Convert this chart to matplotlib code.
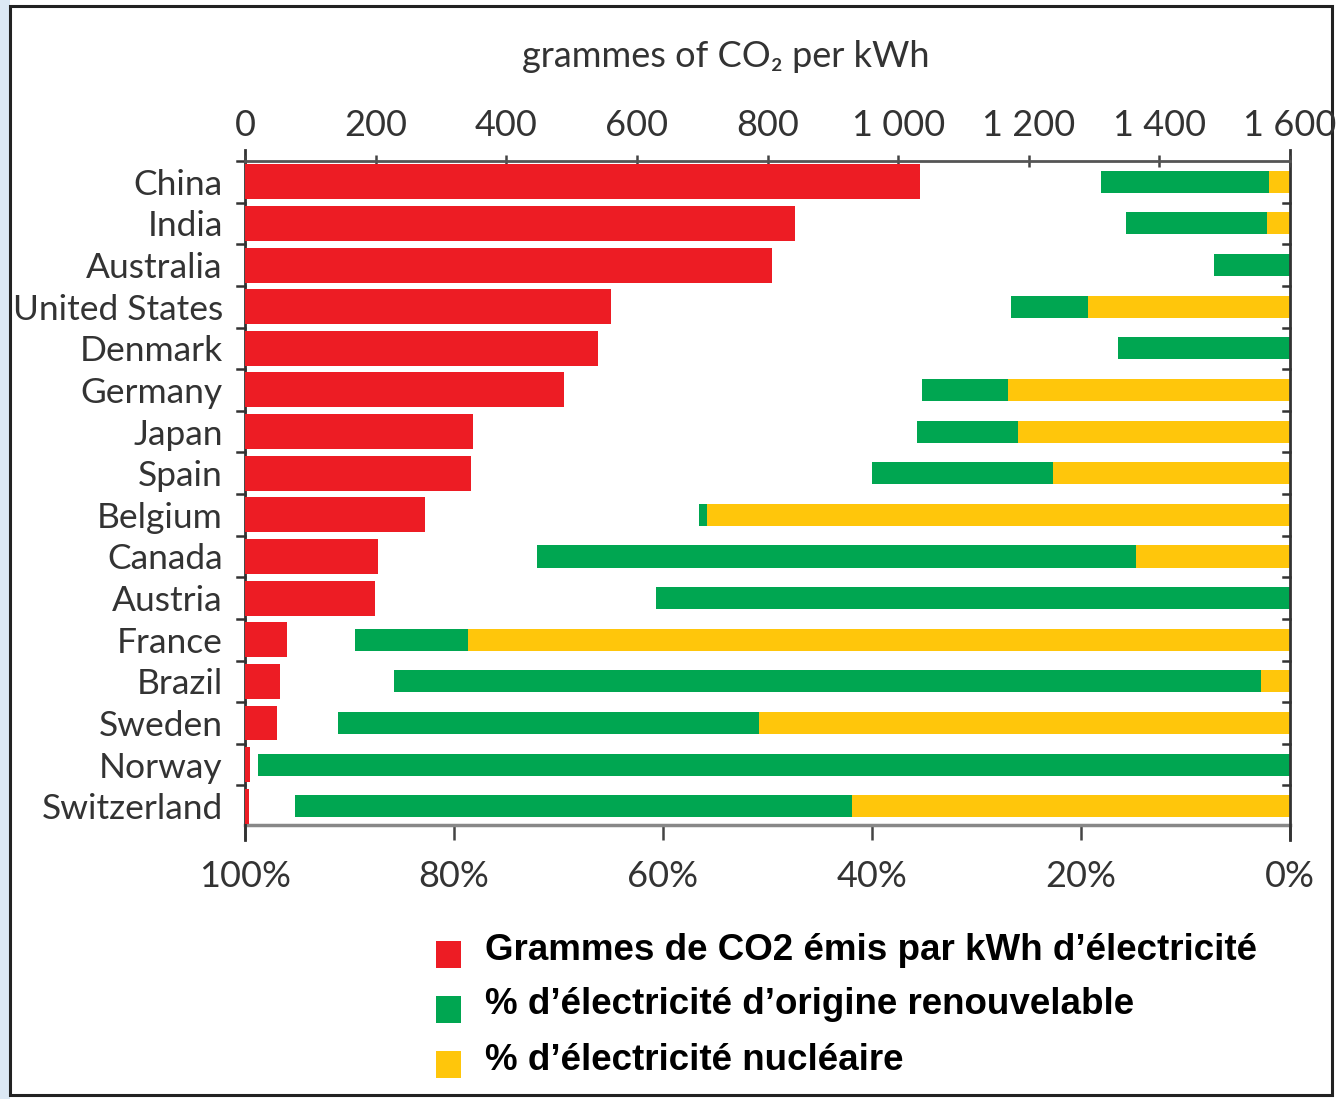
import matplotlib
matplotlib.use("Agg")
import matplotlib.pyplot as plt
import matplotlib.transforms as mtransforms
from matplotlib.patches import Rectangle
from matplotlib.lines import Line2D

plt.rcParams['font.family'] = ['Lato', 'DejaVu Sans']

countries = ["China", "India", "Australia", "United States", "Denmark", "Germany",
             "Japan", "Spain", "Belgium", "Canada", "Austria", "France", "Brazil",
             "Sweden", "Norway", "Switzerland"]
co2_g_per_kwh = [1034, 842, 807, 560, 540, 488, 349, 346, 276, 204, 199, 64, 54, 49, 8, 6]
renewable_pct = [16.1, 13.5, 7.3, 7.4, 16.5, 8.2, 9.7, 17.3, 0.8, 57.4, 60.7, 10.8, 82.9, 40.3, 98.8, 53.3]
nuclear_pct = [2.0, 2.2, 0.0, 19.3, 0.0, 27.0, 26.0, 22.7, 55.8, 14.7, 0.0, 78.7, 2.8, 50.8, 0.0, 41.9]

gram_ticks = [0, 200, 400, 600, 800, 1000, 1200, 1400, 1600]
gram_labels = ["0", "200", "400", "600", "800", "1 000", "1 200", "1 400", "1 600"]
pct_ticks = [100, 80, 60, 40, 20, 0]
pct_labels = ["100%", "80%", "60%", "40%", "20%", "0%"]

legend_labels = ["Grammes de CO2 émis par kWh d\u2019électricité",
                 "% d\u2019électricité d\u2019origine renouvelable",
                 "% d\u2019électricité nucléaire"]

RED = "#ED1C24"
GREEN = "#00A651"
YELLOW = "#FFC60B"
TXT = "#333333"

W, H = 1338, 1099
fig = plt.figure(figsize=(W / 100, H / 100), dpi=100)
fig.patch.set_facecolor("white")

# light strip on the far left and the outer frame
fig.add_artist(Rectangle((0, 0), 10 / W, 1, transform=fig.transFigure,
                         facecolor="#DCE8F4", edgecolor="none", zorder=0))
fig.add_artist(Rectangle((10 / W, 4 / H), 1322 / W, 1089 / H, transform=fig.transFigure,
                         facecolor="white", edgecolor="#222222", linewidth=2.2, zorder=0.5))

x0, x1 = 245 / W, 1290 / W
ytop, ybot = 1 - 161 / H, 1 - 825 / H
ax = fig.add_axes([x0, ybot, x1 - x0, ytop - ybot])
ax.set_zorder(2)
ax.patch.set_alpha(0)

n = len(countries)
ypos = list(range(n))

# percentage axis (bottom): 100% on the left, 0% on the right
ax.set_xlim(100, 0)
ax.set_ylim(n - 0.55, -0.5)
ax.barh(ypos, renewable_pct, left=nuclear_pct, height=0.53, color=GREEN, zorder=3)
ax.barh(ypos, nuclear_pct, left=0, height=0.53, color=YELLOW, zorder=3)

ax.set_xticks(pct_ticks)
ax.set_xticklabels(pct_labels, fontsize=26, color=TXT)
ax.tick_params(axis="x", direction="out", length=11, width=1.8, color="#444444", pad=14)
ax.set_yticks(ypos)
ax.set_yticklabels(countries, fontsize=25.5, color=TXT)
ax.tick_params(axis="y", length=0, pad=16)

for s in ["top", "left", "right"]:
    ax.spines[s].set_visible(False)
ax.spines["bottom"].set_color("#888888")
ax.spines["bottom"].set_linewidth(2.5)

# grams axis (top)
axg = ax.twiny()
axg.set_xlim(0, 1600)
axg.barh(ypos, co2_g_per_kwh, height=0.84, color=RED, zorder=3)
axg.set_xticks(gram_ticks)
axg.set_xticklabels(gram_labels, fontsize=26, color=TXT)
axg.tick_params(axis="x", direction="inout", length=8, width=1.8, color="#444444", pad=10)
for s in ["bottom", "left", "right"]:
    axg.spines[s].set_visible(False)
axg.spines["top"].set_color("#555555")
axg.spines["top"].set_linewidth(2)
axg.set_xlabel("grammes of CO\u2082 per kWh", fontsize=26, color=TXT)
axg.xaxis.set_label_coords(0.46, 1.142)

# vertical axis lines, slightly longer than the plotting area
for xa in (0, 1):
    ax.add_line(Line2D([xa, xa], [-0.023, 1.017], transform=ax.transAxes,
                       color="#333333", linewidth=2, clip_on=False, zorder=5))

# short marks between rows, outside on the left and inside on the right
blend = mtransforms.blended_transform_factory(ax.transAxes, ax.transData)
for k in range(n):
    yb = k - 0.5
    ax.add_line(Line2D([-0.008, 0], [yb, yb], transform=blend, color="#333333",
                       linewidth=1.8, clip_on=False, zorder=5))
    if k > 0:
        ax.add_line(Line2D([0.993, 1], [yb, yb], transform=blend, color="#333333",
                           linewidth=1.8, clip_on=False, zorder=5))

# legend
colors = [RED, GREEN, YELLOW]
for i, (lab, c) in enumerate(zip(legend_labels, colors)):
    yc = 1 - (950 + 55 * i) / H
    fig.add_artist(Rectangle((436 / W, yc - 18 / H), 25 / W, 27 / H,
                             transform=fig.transFigure, facecolor=c, edgecolor="none"))
    fig.text(485 / W, yc, lab, fontsize=26.5, fontweight="bold", color="black",
             family=["Liberation Sans", "DejaVu Sans"], va="center", ha="left")

fig.savefig("out.png", dpi=100)
